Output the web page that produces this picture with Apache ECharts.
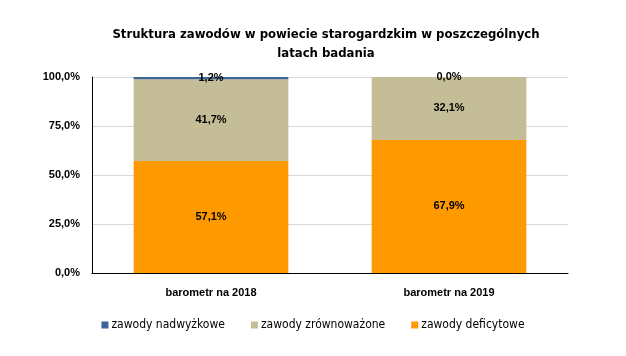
<!DOCTYPE html>
<html><head><meta charset="utf-8">
<script src="https://cdn.jsdelivr.net/npm/echarts@6/dist/echarts.min.js"></script>
<style>html,body{margin:0;padding:0;background:#fff}#c{width:626px;height:356px}</style>
</head><body><div id="c"></div>
<script>
var categories = ['barometr na 2018', 'barometr na 2019'];
var seriesNames = ['zawody nadwyżkowe', 'zawody zrównoważone', 'zawody deficytowe'];
var deficytowe = [57.1, 67.9];
var zrownowazone = [41.7, 32.1];
var nadwyzkowe = [1.2, 0.0];
var yTicks = [0, 25, 50, 75, 100];

var chart = echarts.init(document.getElementById('c'));
var fmt = function (v) { return v.toFixed(1).replace('.', ',') + '%'; };
var lbl = {
  show: true, position: 'inside', color: '#000', fontWeight: 'bold',
  fontSize: 11, fontFamily: 'Liberation Sans',
  formatter: function (p) { return fmt(p.value); }
};
chart.setOption({
  animation: false,
  title: {
    text: 'Struktura zawodów w powiecie starogardzkim w poszczególnych\nlatach badania',
    left: 321, top: 20, textAlign: 'center',
    textStyle: { fontFamily: 'DejaVu Sans Condensed', fontWeight: 'bold', fontSize: 13, lineHeight: 19, color: '#000' }
  },
  legend: {
    data: seriesNames, top: 314, left: 'center', itemWidth: 7, itemHeight: 7, itemGap: 26,
    icon: 'rect',
    textStyle: { fontFamily: 'DejaVu Sans Condensed', fontSize: 12, color: '#000', padding: [0, 0, 0, -2] }
  },
  grid: { left: 92, right: 58, top: 77, bottom: 83 },
  xAxis: {
    type: 'category', data: categories,
    axisLine: { lineStyle: { color: '#000', width: 1 } },
    axisTick: { show: false },
    axisLabel: { color: '#000', fontWeight: 'bold', fontSize: 11, fontFamily: 'Liberation Sans', margin: 14 }
  },
  yAxis: {
    type: 'value', min: 0, max: 100, interval: 25,
    axisLine: { show: true, lineStyle: { color: '#000' } },
    axisTick: { show: false },
    splitLine: { lineStyle: { color: '#d9d9d9' } },
    axisLabel: { color: '#000', fontWeight: 'bold', fontSize: 11, fontFamily: 'Liberation Sans', margin: 12,
      formatter: function (v) { return yTicks.indexOf(v) >= 0 ? fmt(v) : ''; } }
  },
  series: [
    { name: 'zawody deficytowe', type: 'bar', stack: 's', data: deficytowe, barCategoryGap: '35%', itemStyle: { color: '#ff9900' }, label: lbl },
    { name: 'zawody zrównoważone', type: 'bar', stack: 's', data: zrownowazone, itemStyle: { color: '#c4bd97' }, label: lbl },
    { name: 'zawody nadwyżkowe', type: 'bar', stack: 's', data: nadwyzkowe, itemStyle: { color: '#3c6496' }, label: lbl }
  ]
});
</script></body></html>
